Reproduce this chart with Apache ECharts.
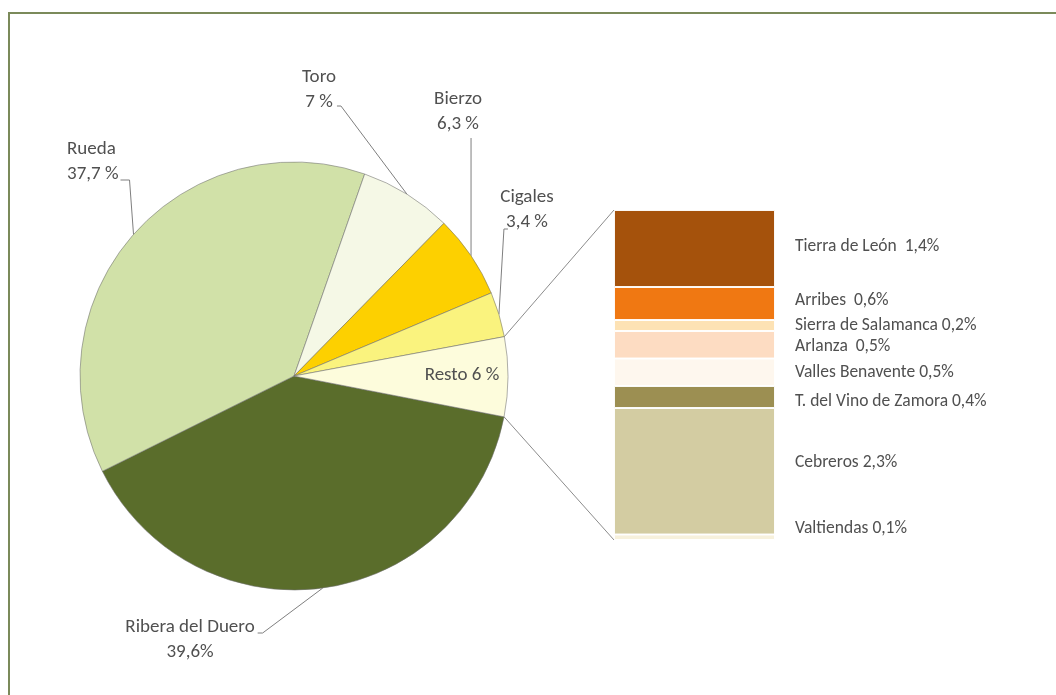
<!DOCTYPE html>
<html><head><meta charset="utf-8">
<script src="https://cdn.jsdelivr.net/npm/echarts@6/dist/echarts.min.js"></script>
<style>html,body{margin:0;padding:0;background:#fff}#c{width:1056px;height:695px}</style>
</head><body><div id="c"></div>
<script>
// ---- data ----
const pieNames = ['Ribera del Duero', 'Rueda', 'Toro', 'Bierzo', 'Cigales', 'Resto'];
const pieValues = [39.6, 37.7, 7, 6.3, 3.4, 6];
const restoNames = ['Valtiendas', 'Cebreros', 'T. del Vino de Zamora', 'Valles Benavente', 'Arlanza', 'Sierra de Salamanca', 'Arribes', 'Tierra de León'];
const restoValues = [0.1, 2.3, 0.4, 0.5, 0.5, 0.2, 0.6, 1.4];

// ---- styles ----
const pieColors = ['#5a6d2b', '#d1e1a8', '#f5f8e6', '#fdd000', '#faf37e', '#fdfcdc'];
const restoColors = ['#f7f1dc', '#d3cca2', '#9c8f52', '#fef7ee', '#fddcc2', '#fde2b4', '#f07812', '#a5520c'];
const barLabelDy = [-9, -9, 5, 0, 2, 0, -3, -2];
const barLabelSep = [' ', ' ', ' ', ' ', '  ', ' ', '  ', '  '];
const FONT = 'Carlito, Lato, sans-serif';
const TXT = '#505050';

function fmt(v) { return String(v).replace('.', ','); }

const chart = echarts.init(document.getElementById('c'));

const pieLabelCfg = {
  0: { x: 190, y: 640, align: 'center', line: (ax, ay, L, T, R, B) => [[ax, ay], [R + 8, T + 18], [R + 3, T + 18]] },
  1: { x: 67, y: 162, align: 'left', line: (ax, ay, L, T, R, B) => [[ax, ay], [ax - 4, B - 7], [R + 2, B - 7]] },
  2: { x: 319, y: 90, align: 'center', line: (ax, ay, L, T, R, B) => [[ax, ay], [R + 5, B - 9], [R + 1, B - 9]] },
  3: { x: 458, y: 112, align: 'center', line: (ax, ay, L, T, R, B) => [[ax, ay], [ax, B + 1]] },
  4: { x: 527, y: 210, align: 'center', line: (ax, ay, L, T, R, B) => [[ax, ay], [ax + 5, B - 6], [ax + 9, B - 6]] },
  5: { x: 462, y: 375, align: 'center', line: null }
};

const pieData = pieNames.map((n, i) => {
  const d = { name: n, value: pieValues[i], itemStyle: { color: pieColors[i] } };
  if (n === 'Resto') { d.label = { position: 'inside' }; d.labelLine = { show: false }; }
  return d;
});

const series = [{
  type: 'pie',
  center: [294, 376],
  radius: 214,
  startAngle: -11,
  clockwise: true,
  avoidLabelOverlap: false,
  silent: true,
  data: pieData,
  itemStyle: { borderColor: 'rgba(110,110,110,0.55)', borderWidth: 1 },
  label: {
    show: true,
    color: TXT,
    fontFamily: FONT,
    fontSize: 19,
    lineHeight: 25,
    formatter: function (p) {
      const v = fmt(p.value);
      if (p.dataIndex === 0) return p.name + '\n' + v + '%';
      if (p.name === 'Resto') return p.name + ' ' + v + ' %';
      return p.name + '\n' + v + ' %';
    }
  },
  labelLine: { show: true, length: 10, length2: 5, lineStyle: { color: '#7f7f7f', width: 1 } },
  labelLayout: function (p) {
    const cfg = pieLabelCfg[p.dataIndex];
    const lay = chart.getModel().getSeriesByIndex(0).getData().getItemLayout(p.dataIndex);
    const mid = (lay.startAngle + lay.endAngle) / 2;
    const ax = lay.cx + lay.r * Math.cos(mid), ay = lay.cy + lay.r * Math.sin(mid);
    const W = p.labelRect.width, H = p.labelRect.height;
    const L = cfg.align === 'left' ? cfg.x : cfg.x - W / 2;
    const T = cfg.y - H / 2, R = L + W, B = T + H;
    const out = { x: cfg.x, y: cfg.y, align: cfg.align, verticalAlign: 'middle' };
    if (cfg.line) out.labelLinePoints = cfg.line(ax, ay, L, T, R, B);
    return out;
  }
}];

restoNames.forEach((n, i) => {
  series.push({
    type: 'bar',
    name: n,
    stack: 'resto',
    xAxisIndex: 0,
    yAxisIndex: 0,
    barWidth: '100%',
    silent: true,
    data: [restoValues[i]],
    itemStyle: { color: restoColors[i], borderColor: 'rgba(255,255,255,0.9)', borderWidth: 1 },
    label: {
      show: true,
      position: 'right',
      distance: 20,
      offset: [0, barLabelDy[i]],
      color: TXT,
      fontFamily: FONT,
      fontSize: 17.5,
      formatter: n + barLabelSep[i] + fmt(restoValues[i]) + '%'
    }
  });
});

const total = restoValues.reduce((a, b) => a + b, 0);

chart.setOption({
  animation: false,
  backgroundColor: '#ffffff',
  grid: { left: 614, top: 210, width: 161, height: 330, containLabel: false },
  xAxis: { type: 'category', data: ['Resto'], show: false },
  yAxis: { type: 'value', min: 0, max: Math.round(total * 10) / 10, show: false },
  series: series
});

// connector lines from the "Resto" slice to the breakdown bar
const lay = chart.getModel().getSeriesByIndex(0).getData().getItemLayout(pieNames.indexOf('Resto'));
const p1 = [lay.cx + lay.r * Math.cos(lay.startAngle), lay.cy + lay.r * Math.sin(lay.startAngle)];
const p2 = [lay.cx + lay.r * Math.cos(lay.endAngle), lay.cy + lay.r * Math.sin(lay.endAngle)];
const topPx = chart.convertToPixel({ xAxisIndex: 0, yAxisIndex: 0 }, ['Resto', Math.round(total * 10) / 10]);
const botPx = chart.convertToPixel({ xAxisIndex: 0, yAxisIndex: 0 }, ['Resto', 0]);
const gridRect = chart.getModel().getComponent('grid', 0).coordinateSystem.getRect();
const bx = gridRect.x;

chart.setOption({
  graphic: [
    { type: 'rect', id: 'frame', silent: true, z: -10, shape: { x: 9, y: 13, width: 1300, height: 900 },
      style: { fill: 'none', stroke: '#7b8a5a', lineWidth: 2 } },
    { type: 'line', id: 'c1', silent: true, shape: { x1: p1[0], y1: p1[1], x2: bx, y2: topPx[1] },
      style: { stroke: '#8c8c8c', lineWidth: 1 } },
    { type: 'line', id: 'c2', silent: true, shape: { x1: p2[0], y1: p2[1], x2: bx, y2: botPx[1] },
      style: { stroke: '#8c8c8c', lineWidth: 1 } }
  ]
});
</script>
</body></html>
